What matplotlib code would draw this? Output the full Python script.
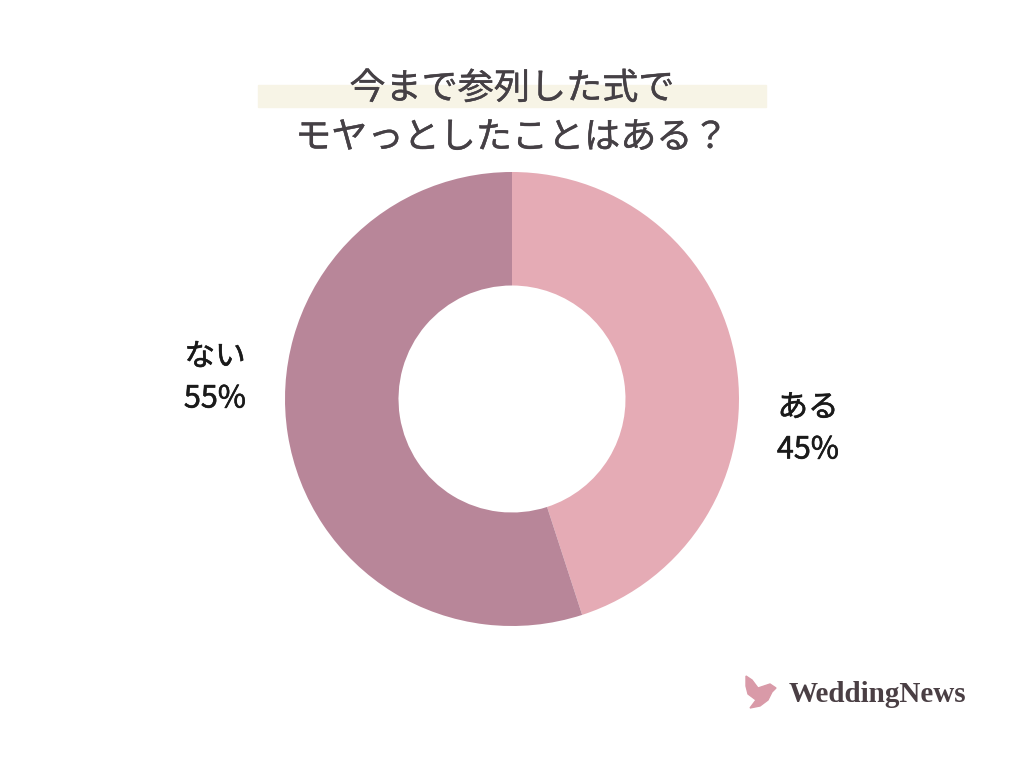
import matplotlib.pyplot as plt
import matplotlib.patheffects as pe
from matplotlib.patches import Rectangle, Polygon

plt.rcParams['font.family'] = ['Noto Sans CJK JP', 'DejaVu Sans']

# data
labels = ["ある", "ない"]
values = [45, 55]
colors = ["#E5ABB5", "#B88699"]
title_lines = ["今まで参列した式で", "モヤっとしたことはある？"]

W, H = 1024, 768
fig = plt.figure(figsize=(W / 100, H / 100), dpi=100)
fig.patch.set_facecolor("white")

# title highlight band
fig.patches.append(Rectangle((258 / W, 1 - 107 / H), 508 / W, 22 / H,
                             transform=fig.transFigure, color="#F7F4E6", zorder=0))
title_color = "#454045"
thick_t = [pe.withStroke(linewidth=0.3, foreground=title_color)]
fig.text(512 / W, 1 - 89 / H, title_lines[0], ha="center", va="center",
         fontsize=26, color=title_color, path_effects=thick_t)
fig.text(512 / W, 1 - 138 / H, title_lines[1], ha="center", va="center",
         fontsize=26, color=title_color, path_effects=thick_t)

# donut: center (512, 399), outer radius 227 px
r = 227
ax = fig.add_axes([(512 - r) / W, 1 - (399 + r) / H, 2 * r / W, 2 * r / H])
ax.pie(values, colors=colors, startangle=90, counterclock=False,
       wedgeprops=dict(width=0.5, linewidth=0))
ax.set_aspect("equal")
ax.set_xlim(-1, 1)
ax.set_ylim(-1, 1)
ax.axis("off")

# labels
lab_color = "#1a1a1a"
lab = dict(ha="center", va="center", fontsize=22, color=lab_color,
           path_effects=[pe.withStroke(linewidth=0.4, foreground=lab_color)])
fig.text(808 / W, 1 - 408 / H, labels[0], **lab)
fig.text(808 / W, 1 - 450 / H, f"{values[0]}%", **lab)
fig.text(215 / W, 1 - 357 / H, labels[1], **lab)
fig.text(215 / W, 1 - 399 / H, f"{values[1]}%", **lab)

# logo
dove = [(746, 676), (752, 680), (758, 688), (764, 686), (770, 684), (776, 688),
        (772, 692), (768, 700), (760, 706), (750, 708), (756, 700), (748, 694), (746, 686)]
fig.patches.append(Polygon([(x / W, 1 - y / H) for x, y in dove], closed=True,
                           transform=fig.transFigure, color="#D99AA8", zorder=1))
fig.text(789 / W, 1 - 694 / H, "WeddingNews", ha="left", va="center",
         fontsize=21, color="#4A3F44", family="Liberation Serif", weight="bold")

fig.savefig("out.png", dpi=100)
